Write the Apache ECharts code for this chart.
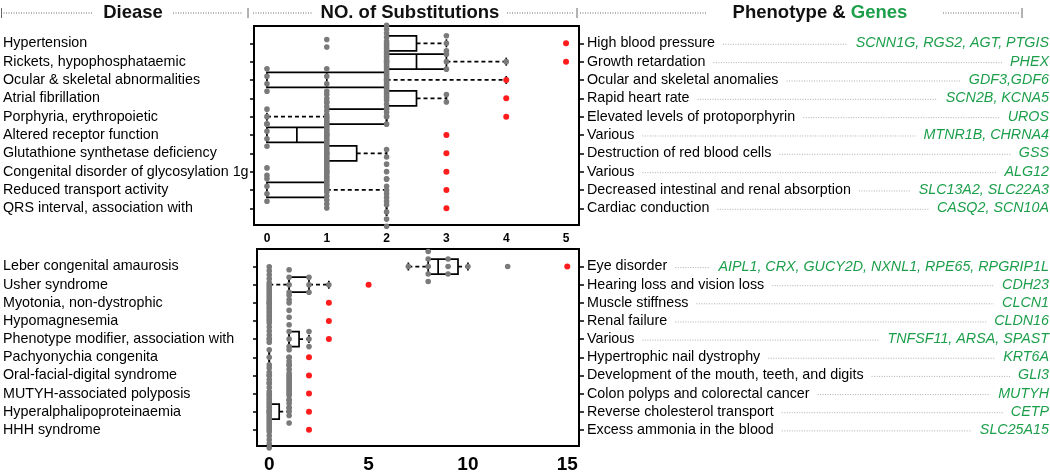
<!DOCTYPE html>
<html><head><meta charset="utf-8">
<script src="https://cdn.jsdelivr.net/npm/echarts@6/dist/echarts.min.js"></script>
<style>html,body{margin:0;padding:0;background:#fff}#c{width:1050px;height:474px}</style>
</head><body><div id="c"></div>
<script>
// ---------------- data ----------------
const topDiseases = ['Hypertension','Rickets, hypophosphataemic','Ocular & skeletal abnormalities','Atrial fibrillation','Porphyria, erythropoietic','Altered receptor function','Glutathione synthetase deficiency','Congenital disorder of glycosylation 1g','Reduced transport activity','QRS interval, association with'];
const topPhenotypes = ['High blood pressure','Growth retardation','Ocular and skeletal anomalies','Rapid heart rate','Elevated levels of protoporphyrin','Various','Destruction of red blood cells','Various','Decreased intestinal and renal absorption','Cardiac conduction'];
const topGenes = ['SCNN1G, RGS2, AGT, PTGIS','PHEX','GDF3,GDF6','SCN2B, KCNA5','UROS','MTNR1B, CHRNA4','GSS','ALG12','SLC13A2, SLC22A3','CASQ2, SCN10A'];
// [whiskerLow, Q1, median, Q3, whiskerHigh]
const topBoxStats = [[2,2,2,2.5,3],[2,2,2.5,3,4],[0,0,1,2,4],[2,2,2,2.5,3],[0,1,2,2,2],[0,0,0.5,1,1],[1,1,1,1.5,2],[1,1,1,1,1],[0,0,1,1,2],[2,2,2,2,2]];
const topRed = [5,5,4,4,4,3,3,3,3,3];
// per row: [value, number of grey points]
const topCounts = [
  [[1,2],[2,10],[3,3]],
  [[2,10],[3,3],[4,1]],
  [[0,4],[1,4],[2,10]],
  [[1,2],[2,10],[3,2]],
  [[0,3],[1,10],[2,3]],
  [[0,4],[1,10]],
  [[1,10],[2,2]],
  [[0,2],[1,10],[2,3]],
  [[0,4],[1,10],[2,4]],
  [[2,6]]
];
const topTicks = [0,1,2,3,4,5];

const bottomDiseases = ['Leber congenital amaurosis','Usher syndrome','Myotonia, non-dystrophic','Hypomagnesemia','Phenotype modifier, association with','Pachyonychia congenita','Oral-facial-digital syndrome','MUTYH-associated polyposis','Hyperalphalipoproteinaemia','HHH syndrome'];
const bottomPhenotypes = ['Eye disorder','Hearing loss and vision loss','Muscle stiffness','Renal failure','Various','Hypertrophic nail dystrophy','Development of the mouth, teeth, and digits','Colon polyps and colorectal cancer','Reverse cholesterol transport','Excess ammonia in the blood'];
const bottomGenes = ['AIPL1, CRX, GUCY2D, NXNL1, RPE65, RPGRIP1L','CDH23','CLCN1','CLDN16','TNFSF11, ARSA, SPAST','KRT6A','GLI3','MUTYH','CETP','SLC25A15'];
const bottomBoxStats = [[7,8,8.5,9.5,10],[0,1,1,2,3],null,null,[1,1,1,1.5,2],[0,0,0,0,0],null,null,[0,0,0,0.5,1],null];
const bottomRed = [15,5,3,3,3,2,2,2,2,2];
const bottomCounts = [
  [[7,1],[8,5],[9,3],[10,1],[12,1]],
  [[0,10],[1,5],[2,3],[3,1]],
  [[0,10],[1,3]],
  [[0,10],[1,2]],
  [[0,1],[1,3],[2,3]],
  [[0,5],[1,3]],
  [[0,3],[1,10]],
  [[0,10],[1,10]],
  [[0,10],[1,4]],
  [[0,10]]
];
const bottomTicks = [0,5,10,15];
const rowIdx = [0,1,2,3,4,5,6,7,8,9];

// ---------------- style ----------------
const FONT = '"Liberation Sans", Arial, sans-serif';
const GREEN = '#1c9f4b';
const GREY = '#7a7a7a';
const RED = '#ff1c1c';
const TXT = 14.3;

const mctx = document.createElement('canvas').getContext('2d');
function textW(t, style){ mctx.font = (style||'') + ' ' + TXT + 'px "Liberation Sans"'; return mctx.measureText(t).width; }

function dotData(counts){
  const out = [];
  counts.forEach((row, r) => {
    row.forEach(([v, n]) => {
      const step = n <= 5 ? 7.5 : 36 / (n - 1);
      for (let i = 0; i < n; i++) out.push([v, r, (i - (n - 1) / 2) * step]);
    });
  });
  return out;
}
function boxData(stats){
  const out = [];
  stats.forEach((s, r) => { if (s) out.push([r].concat(s)); });
  return out;
}
function boxRender(params, api){
  const row = api.value(0);
  const s = [api.value(1),api.value(2),api.value(3),api.value(4),api.value(5)];
  const y = api.coord([0,row])[1];
  const px = v => api.coord([v,row])[0];
  const h = 7.5, ch = 4;
  const solid = {stroke:'#000', lineWidth:1.7, fill:null};
  const dash = {stroke:'#000', lineWidth:1.7, lineDash:[4,3], fill:null};
  const c = [];
  if (s[1] > s[0]) {
    c.push({type:'line', shape:{x1:px(s[0]),y1:y,x2:px(s[1]),y2:y}, style:dash});
    c.push({type:'line', shape:{x1:px(s[0]),y1:y-ch,x2:px(s[0]),y2:y+ch}, style:solid});
  }
  if (s[4] > s[3]) {
    c.push({type:'line', shape:{x1:px(s[3]),y1:y,x2:px(s[4]),y2:y}, style:dash});
    c.push({type:'line', shape:{x1:px(s[4]),y1:y-ch,x2:px(s[4]),y2:y+ch}, style:solid});
  }
  c.push({type:'rect', shape:{x:px(s[1]), y:y-h, width:px(s[3])-px(s[1]), height:2*h}, style:{stroke:'#000', lineWidth:1.7, fill:'none'}});
  c.push({type:'line', shape:{x1:px(s[2]),y1:y-h,x2:px(s[2]),y2:y+h}, style:solid});
  return {type:'group', children:c};
}
function dotRender(color, r){
  return function(params, api){
    const p = api.coord([api.value(0), api.value(1)]);
    return {type:'circle', shape:{cx:p[0], cy:p[1] + api.value(2), r:r}, style:{fill:color, stroke:null}};
  };
}
function annRender(phen, genes){
  return function(params, api){
    const row = api.value(1);
    const y = api.coord([0,row])[1];
    const cs = params.coordSys;
    const pStart = cs.x + cs.width + 8;
    const pEnd = pStart + textW(phen[row]);
    const gRight = api.getWidth() - 1;
    const gLeft = gRight - textW(genes[row], 'italic');
    const c = [];
    if (gLeft - 8 > pEnd + 8) {
      c.push({type:'line', shape:{x1:pEnd + 8, y1:y + 1, x2:gLeft - 8, y2:y + 1}, style:{stroke:'#9a9a9a', lineWidth:0.8, lineDash:[1,1.5]}});
    }
    c.push({type:'text', x:gRight, y:y, style:{text:genes[row], fill:GREEN, font:'italic ' + TXT + 'px ' + FONT, align:'right', verticalAlign:'middle'}});
    return {type:'group', children:c};
  };
}

function yAxes(gi, names, phen, min, max, leftMargin){
  return [
    {gridIndex:gi, type:'value', position:'left', inverse:true, min:min, max:max,
     axisLine:{show:false, onZero:false}, splitLine:{show:false},
     axisTick:{show:true, length:4, lineStyle:{color:'#000', width:1.5}, customValues:rowIdx},
     axisLabel:{customValues:rowIdx, formatter:v => names[Math.round(v)] || '', align:'left', margin:leftMargin, color:'#000', fontSize:TXT, fontFamily:FONT}},
    {gridIndex:gi, type:'value', position:'right', inverse:true, min:min, max:max,
     axisLine:{show:false, onZero:false}, splitLine:{show:false},
     axisTick:{show:true, length:5, lineStyle:{color:'#000', width:1.5}, customValues:rowIdx},
     axisLabel:{customValues:rowIdx, formatter:v => phen[Math.round(v)] || '', align:'left', margin:8, color:'#000', fontSize:TXT, fontFamily:FONT}}
  ];
}

// header decorations
const hdrY = 13;
const hdrDots = [[1,93],[173,243],[253,313],[507,573],[580,707],[943,1020]];
const hdrBars = [1.5,248,577,1022];
const graphic = [];
hdrDots.forEach(([a,b]) => graphic.push({type:'line', shape:{x1:a,y1:hdrY,x2:b,y2:hdrY}, style:{stroke:'#666', lineWidth:1, lineDash:[1,1.5]}, silent:true}));
hdrBars.forEach(x => graphic.push({type:'line', shape:{x1:x,y1:hdrY-5,x2:x,y2:hdrY+5}, style:{stroke:'#666', lineWidth:1}, silent:true}));
graphic.push({type:'text', x:133, y:hdrY, style:{text:'Diease', font:'bold 18.5px ' + FONT, fill:'#111', align:'center', verticalAlign:'middle'}});
graphic.push({type:'text', x:410, y:hdrY, style:{text:'NO. of Substitutions', font:'bold 18.5px ' + FONT, fill:'#111', align:'center', verticalAlign:'middle'}});
graphic.push({type:'text', x:820, y:hdrY, style:{text:'{a|Phenotype & }{g|Genes}', align:'center', verticalAlign:'middle',
  rich:{a:{font:'bold 18.5px ' + FONT, fill:'#111'}, g:{font:'bold 18.5px ' + FONT, fill:GREEN}}}});

const option = {
  animation:false,
  backgroundColor:'#fff',
  graphic: graphic,
  grid:[
    {left:253, top:26, width:326, height:199, show:true, borderColor:'#000', borderWidth:2, backgroundColor:'transparent'},
    {left:256, top:249, width:323, height:199, show:true, borderColor:'#000', borderWidth:2, backgroundColor:'transparent'}
  ],
  xAxis:[
    {gridIndex:0, type:'value', min:-0.2167, max:5.2167, axisLine:{show:false, onZero:false}, axisTick:{show:false}, splitLine:{show:false},
     axisLabel:{customValues:topTicks, color:'#000', fontWeight:'bold', fontSize:12, fontFamily:FONT, margin:8}},
    {gridIndex:1, type:'value', min:-0.617, max:15.59, axisLine:{show:false, onZero:false}, axisTick:{show:false}, splitLine:{show:false},
     axisLabel:{customValues:bottomTicks, color:'#000', fontWeight:'bold', fontSize:19, fontFamily:FONT, margin:9}}
  ],
  yAxis: yAxes(0, topDiseases, topPhenotypes, -0.944, 9.911, 251).concat(yAxes(1, bottomDiseases, bottomPhenotypes, -0.966, 9.889, 254)),
  series:[
    {type:'custom', xAxisIndex:0, yAxisIndex:0, data:boxData(topBoxStats), encode:{x:[1,5], y:0}, renderItem:boxRender, z:2, silent:true},
    {type:'custom', xAxisIndex:0, yAxisIndex:0, data:dotData(topCounts), encode:{x:0, y:1}, renderItem:dotRender(GREY, 2.8), z:3, silent:true},
    {type:'custom', xAxisIndex:0, yAxisIndex:0, data:topRed.map((v,i)=>[v,i,0]), encode:{x:0, y:1}, renderItem:dotRender(RED, 3), z:4, silent:true},
    {type:'custom', xAxisIndex:0, yAxisIndex:1, data:rowIdx.map(i=>[0,i]), encode:{x:0, y:1}, renderItem:annRender(topPhenotypes, topGenes), clip:false, z:5, silent:true},
    {type:'custom', xAxisIndex:1, yAxisIndex:2, data:boxData(bottomBoxStats), encode:{x:[1,5], y:0}, renderItem:boxRender, z:2, silent:true},
    {type:'custom', xAxisIndex:1, yAxisIndex:2, data:dotData(bottomCounts), encode:{x:0, y:1}, renderItem:dotRender(GREY, 2.8), z:3, silent:true},
    {type:'custom', xAxisIndex:1, yAxisIndex:2, data:bottomRed.map((v,i)=>[v,i,0]), encode:{x:0, y:1}, renderItem:dotRender(RED, 3), z:4, silent:true},
    {type:'custom', xAxisIndex:1, yAxisIndex:3, data:rowIdx.map(i=>[0,i]), encode:{x:0, y:1}, renderItem:annRender(bottomPhenotypes, bottomGenes), clip:false, z:5, silent:true}
  ]
};
const chart = echarts.init(document.getElementById('c'), null, {renderer:'canvas'});
chart.setOption(option);
</script>
</body></html>
